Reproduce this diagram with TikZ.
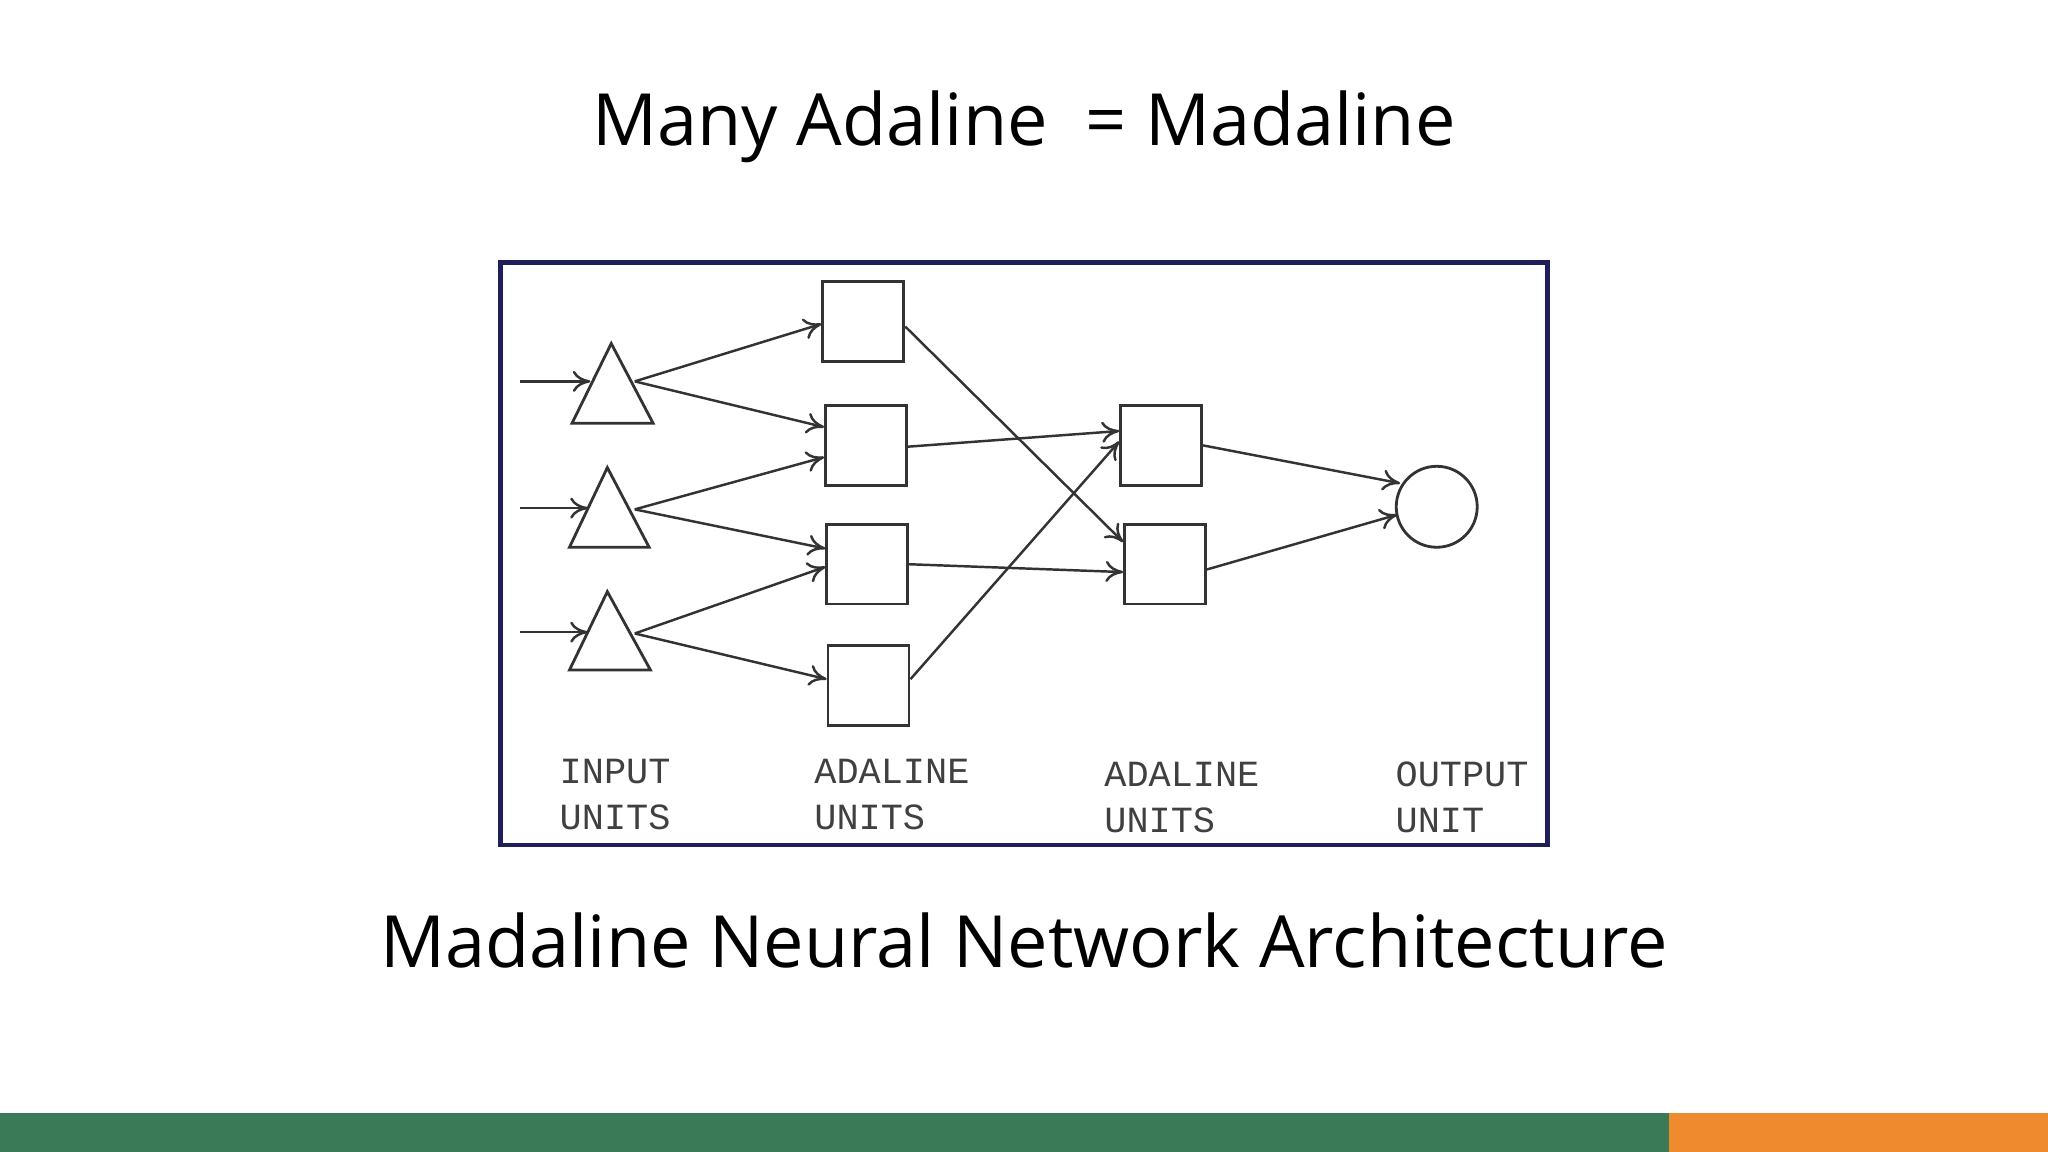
\documentclass[tikz,border=0pt]{standalone}
\usepackage{fontspec}
\setmainfont{Open Sans}
\newfontfamily\labfont{Liberation Mono}
\usetikzlibrary{calc,arrows.meta}
\definecolor{barg}{HTML}{3B7A57}
\definecolor{baro}{HTML}{F08A2E}
\definecolor{frame}{HTML}{1F1F5C}
\begin{document}
\begin{tikzpicture}[x=0.013061cm,y=-0.013061cm,
  unit/.style={draw=black!80,line width=0.8pt,minimum width=62*0.013061cm,minimum height=61*0.013061cm,inner sep=0pt},
  conn/.style={draw=black!80,line width=0.7pt,-{To[length=5pt,width=6pt]}},
  lab/.style={font=\labfont\fontsize{10.5}{13}\selectfont,align=left,anchor=north west,inner sep=0pt,text=black!75},
  big/.style={font=\fontsize{20.5}{24}\selectfont}]
\useasboundingbox (0,0) rectangle (1568,882);
\fill[white] (0,0) rectangle (1568,882);
\fill[barg] (0,852) rectangle (1278,882);
\fill[baro] (1278,852) rectangle (1568,882);
\node[big] (title) at (784,97) {Many Adaline\ \ = Madaline};
\node[big] (cap) at (784,720) {Madaline Neural Network Architecture};
\draw[frame,line width=1.3pt] (383,201) rectangle (1185,647);
% triangles
\draw[black!80,line width=0.8pt] (468,263) -- (500,324) -- (438,324) -- cycle;
\draw[black!80,line width=0.8pt] (465,358) -- (497,419) -- (436,419) -- cycle;
\draw[black!80,line width=0.8pt] (465,453) -- (498,513) -- (436,513) -- cycle;
\coordinate (i1) at (398,292); \coordinate (t1l) at (452,292); \coordinate (t1r) at (486,292);
\coordinate (i2) at (398,389); \coordinate (t2l) at (450,389); \coordinate (t2r) at (486,390);
\coordinate (i3) at (398,484); \coordinate (t3l) at (450,484); \coordinate (t3r) at (486,485);
\draw[conn] (i1) -- (t1l);
\draw[conn] (i2) -- (t2l);
\draw[conn] (i3) -- (t3l);
% adaline layer 1
\node[unit] (s1) at (661,246) {};
\node[unit] (s2) at (663,341) {};
\node[unit] (s3) at (664,432) {};
\node[unit] (s4) at (665,525) {};
% adaline layer 2
\node[unit] (r1) at (889,341) {};
\node[unit] (r2) at (892,432) {};
\node[circle,draw=black!80,line width=0.8pt,minimum size=62*0.013061cm,inner sep=0pt] (o) at (1100,388) {};
% connections
\draw[conn] (t1r) -- ($(s1.west)+(0,2)$);
\draw[conn] (t1r) -- ($(s2.west)+(0,-14)$);
\draw[conn] (t2r) -- ($(s2.west)+(0,9)$);
\draw[conn] (t2r) -- ($(s3.west)+(0,-12)$);
\draw[conn] (t3r) -- ($(s3.west)+(0,2)$);
\draw[conn] (t3r) -- ($(s4.west)+(0,-5)$);
\draw[conn] ($(s1.east)+(0,4)$) -- ($(r2.west)+(0,-17)$);
\draw[conn] ($(s2.east)+(0,1)$) -- ($(r1.west)+(0,-11)$);
\draw[conn] ($(s3.east)+(0,0)$) -- ($(r2.west)+(0,6)$);
\draw[conn] ($(s4.east)+(0,-5)$) -- ($(r1.west)+(0,-3)$);
\draw[conn] (r1.east) -- ($(o.west)+(4,-18)$);
\draw[conn] ($(r2.east)+(0,4)$) -- ($(o.west)+(2,6)$);
% labels
\node[lab] (l1) at (428,581) {INPUT\\UNITS};
\node[lab] (l2) at (623,581) {ADALINE\\UNITS};
\node[lab] (l3) at (845,583) {ADALINE\\UNITS};
\node[lab] (l4) at (1068,583) {OUTPUT\\UNIT};
\end{tikzpicture}
\end{document}
